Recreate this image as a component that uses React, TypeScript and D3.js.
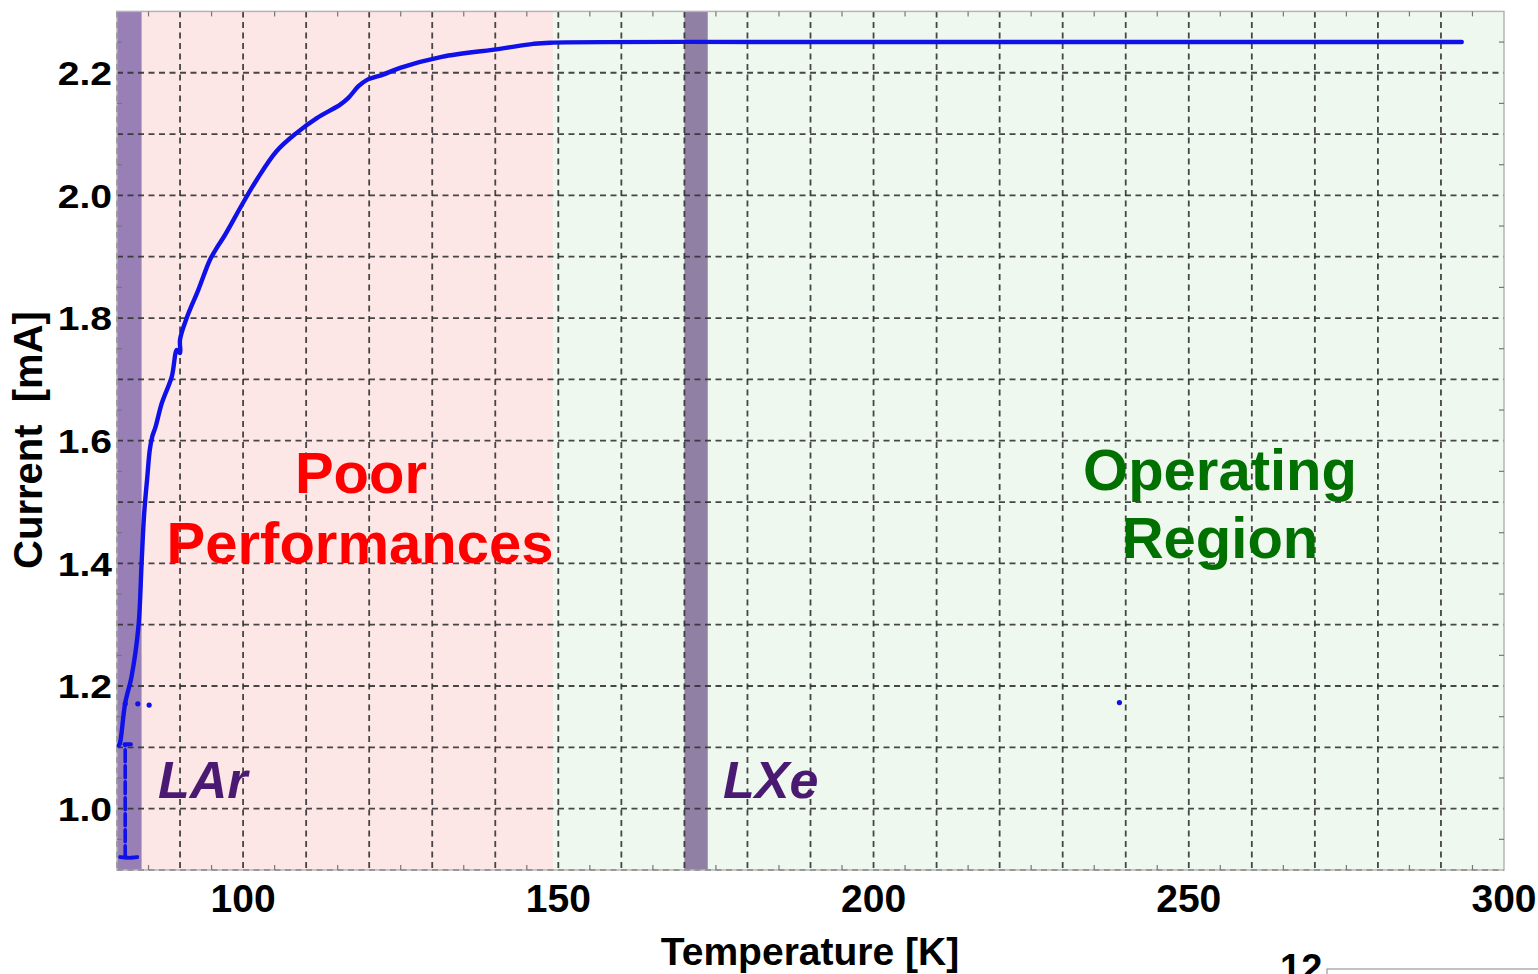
import React from "react";
import * as d3 from "d3";

// Temperature sweep of the device current
const tempDomain: [number, number] = [80, 300];
const currentDomain: [number, number] = [0.9, 2.3];

const xTickValues = [100, 150, 200, 250, 300];
const yTickValues = [1.0, 1.2, 1.4, 1.6, 1.8, 2.0, 2.2];
const xGridValues = d3.range(80, 300, 10);
const yGridValues = d3.range(9, 23).map((v) => v / 10);

// Shaded temperature regions [from, to]
const poorRegion: [number, number] = [80, 149.2];
const operatingRegion: [number, number] = [149.2, 300];
const larBand: [number, number] = [80, 83.9];
const lxeBand: [number, number] = [170, 173.7];

// Main warm-up trace: [temperature K, current mA]
const warmupTrace: [number, number][] = [
  [80.3, 1.103], [80.5, 1.108], [81.3, 1.172], [82.3, 1.215], [83.4, 1.297],
  [83.9, 1.4], [84.3, 1.48], [84.8, 1.54], [85.2, 1.585], [85.6, 1.607],
  [86.1, 1.622], [87.1, 1.661], [88.7, 1.705], [89.5, 1.748], [90.0, 1.743],
  [90.0, 1.765], [91.05, 1.8], [92.9, 1.846], [94.75, 1.895], [95.8, 1.914],
  [97.1, 1.935], [100.0, 1.988], [102.2, 2.026], [105.3, 2.072], [108.5, 2.102],
  [111.7, 2.126], [115.4, 2.148], [116.7, 2.159], [118.3, 2.178], [119.6, 2.188],
  [122.2, 2.197], [124.9, 2.208], [131.5, 2.226], [140.7, 2.239], [146.0, 2.247],
  [148.7, 2.249], [200.0, 2.25], [250.0, 2.25], [293.3, 2.25],
];

// Initial readings while still cold
const coldRiser: [number, number][] = [[81.3, 0.92], [81.3, 1.105]];
const coldCap: [number, number][] = [[81.2, 1.105], [82.2, 1.105]];
const coldBaseA: [number, number][] = [[80.5, 0.921], [81.8, 0.92]];
const coldBaseB: [number, number][] = [[82.2, 0.92], [83.2, 0.921]];

// Isolated readings
const strayPoints: [number, number][] = [
  [81.3, 1.171], [83.3, 1.171], [85.1, 1.169], [239.0, 1.173],
];

const W = 1538;
const H = 974;
const FONT = "'Liberation Sans', Arial, Helvetica, sans-serif";

export default function App() {
  const x = d3.scaleLinear().domain(tempDomain).range([117, 1504]);
  const y = d3.scaleLinear().domain(currentDomain).range([870, 11.4]);
  const line = d3
    .line<[number, number]>()
    .x((d) => x(d[0]))
    .y((d) => y(d[1]));
  const smoothLine = d3
    .line<[number, number]>()
    .x((d) => x(d[0]))
    .y((d) => y(d[1]))
    .curve(d3.curveCatmullRom.alpha(0.5));

  const [x0, x1] = x.range();
  const [yb, yt] = y.range();

  const minorY = d3.range(9, 23).map((v) => v / 10 + 0.05);
  const minorX = d3.range(85, 300, 10);

  const gridStyle = {
    stroke: "#333",
    strokeWidth: 1.8,
    strokeDasharray: "6 4.5",
    opacity: 0.9,
  };

  return (
    <svg
      width={W}
      height={H}
      style={{ position: "absolute", left: 0, top: 0, background: "#fff" }}
      fontFamily={FONT}
    >
      {/* regions */}
      <rect x={x(poorRegion[0])} y={yt} width={x(poorRegion[1]) - x(poorRegion[0])} height={yb - yt} fill="#fde6e6" />
      <rect x={x(operatingRegion[0])} y={yt} width={x(operatingRegion[1]) - x(operatingRegion[0])} height={yb - yt} fill="#eff8ee" />
      <rect x={x(larBand[0])} y={yt} width={x(larBand[1]) - x(larBand[0])} height={yb - yt} fill="#9880b6" />
      <rect x={x(lxeBand[0])} y={yt} width={x(lxeBand[1]) - x(lxeBand[0])} height={yb - yt} fill="#9081a4" />

      {/* grid */}
      {xGridValues.map((v) => (
        <line key={"gx" + v} x1={x(v)} x2={x(v)} y1={yt} y2={yb} {...gridStyle} />
      ))}
      {yGridValues.map((v) => (
        <line key={"gy" + v} x1={x0} x2={x1} y1={y(v)} y2={y(v)} {...gridStyle} />
      ))}

      {/* frame and minor ticks */}
      <rect x={x0} y={yt} width={x1 - x0} height={yb - yt} fill="none" stroke="#b5b5b5" strokeWidth={1.5} />
      {minorY.map((v) => (
        <g key={"my" + v}>
          <line x1={x0} x2={x0 + 5} y1={y(v)} y2={y(v)} stroke="#777" strokeWidth={1.2} />
          <line x1={x1 - 5} x2={x1} y1={y(v)} y2={y(v)} stroke="#777" strokeWidth={1.2} />
        </g>
      ))}
      {minorX.map((v) => (
        <g key={"mx" + v}>
          <line x1={x(v)} x2={x(v)} y1={yb} y2={yb - 5} stroke="#777" strokeWidth={1.2} />
          <line x1={x(v)} x2={x(v)} y1={yt} y2={yt + 5} stroke="#777" strokeWidth={1.2} />
        </g>
      ))}

      {/* data */}
      <g fill="none" stroke="#1010e8" strokeLinecap="round" strokeLinejoin="round">
        <path d={smoothLine(warmupTrace) ?? ""} strokeWidth={4.4} />
        <path d={line(coldRiser) ?? ""} strokeWidth={3.6} strokeDasharray="12 4" />
        <path d={line(coldCap) ?? ""} strokeWidth={4} />
        <path d={line(coldBaseA) ?? ""} strokeWidth={4} />
        <path d={line(coldBaseB) ?? ""} strokeWidth={4} />
      </g>
      {strayPoints.map((p, i) => (
        <circle key={"sp" + i} cx={x(p[0])} cy={y(p[1])} r={2.6} fill="#1010e8" />
      ))}

      {/* region labels */}
      <g fontWeight="bold" fontSize={58} textAnchor="middle">
        <text x={361} y={493} fill="#ff0000">Poor</text>
        <text x={360} y={563} fill="#ff0000">Performances</text>
        <text x={1220} y={490} fill="#007000">Operating</text>
        <text x={1220} y={558} fill="#007000">Region</text>
      </g>
      <g fontWeight="bold" fontStyle="italic" fontSize={52} fill="#4a1a72">
        <text x={158} y={798}>LAr</text>
        <text x={723} y={798}>LXe</text>
      </g>

      {/* axes */}
      <g fontWeight="bold" fontSize={34} fill="#000" textAnchor="end">
        {yTickValues.map((v) => (
          <text key={"yt" + v} transform={`translate(112, ${y(v)}) scale(1.15, 1)`} dy="0.36em">
            {d3.format(".1f")(v)}
          </text>
        ))}
      </g>
      <g fontWeight="bold" fontSize={39} fill="#000" textAnchor="middle">
        {xTickValues.map((v) => (
          <text key={"xt" + v} x={x(v)} y={912}>
            {v}
          </text>
        ))}
      </g>
      <text x={810} y={965} fontWeight="bold" fontSize={39} textAnchor="middle">
        Temperature [K]
      </text>
      <text
        transform={`translate(42, 440) rotate(-90)`}
        fontWeight="bold"
        fontSize={40}
        textAnchor="middle"
        style={{ whiteSpace: "pre" }}
      >
        {"Current  [mA]"}
      </text>

      {/* neighbouring panel edge */}
      <text x={1280} y={981} fontWeight="bold" fontSize={38}>12</text>
      <rect x={1327} y={969} width={230} height={30} fill="none" stroke="#999" strokeWidth={1.2} />
    </svg>
  );
}
